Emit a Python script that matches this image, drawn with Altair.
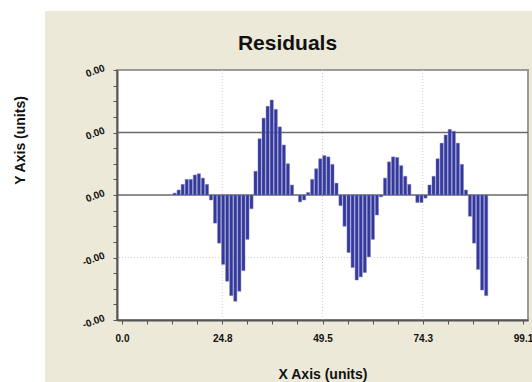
import altair as alt
import pandas as pd

# ---- data ----
x_vals = list(range(13, 91))
# residual values in units of 0.001
residuals_milli = [
    0.03, 0.08, 0.17, 0.25, 0.25, 0.32, 0.34, 0.27, 0.17, -0.08,
    -0.45, -0.77, -1.11, -1.38, -1.61, -1.70, -1.54, -1.21, -0.71, -0.22,
    0.38, 0.90, 1.23, 1.42, 1.52, 1.37, 1.09, 0.80, 0.50, 0.16,
    0.0, -0.11, -0.08, 0.04, 0.25, 0.42, 0.58, 0.63, 0.61, 0.49,
    0.19, -0.17, -0.50, -0.92, -1.16, -1.36, -1.31, -1.24, -0.99, -0.71,
    -0.32, -0.03, 0.27, 0.53, 0.61, 0.60, 0.47, 0.30, 0.17, 0.0,
    -0.12, -0.12, -0.05, 0.16, 0.30, 0.58, 0.83, 0.96, 1.05, 1.02,
    0.83, 0.49, 0.08, -0.34, -0.77, -1.19, -1.52, -1.61,
]
x_major = [0.0, 24.775, 49.55, 74.325, 99.1]
y_major = [-0.002, -0.001, 0.0, 0.001, 0.002]
solid_lines_y = [0.0, 0.001]
grid_x = [24.775, 49.55, 74.325]
grid_y = [-0.001]

x_ticks = [x_major[0] + i * (x_major[1] - x_major[0]) / 4 for i in range(17)]
y_ticks = [-0.002 + i * 0.00025 for i in range(17)]

df = pd.DataFrame({"x": x_vals, "y": [v * 0.001 for v in residuals_milli]})

W, H = 411, 250
PL, PT, PR, PB = 117, 70, 4, 62
BEIGE = "#ECE9D8"
FONT = "Liberation Sans"

xscale = alt.Scale(domain=[0, 99.1], nice=False, zero=False)
yscale = alt.Scale(domain=[-0.002, 0.002], nice=False, zero=False)

x_label_expr = ("abs(datum.value/24.775 - round(datum.value/24.775)) < 0.01 ? "
                "format(datum.value, '.1f') : ''")
y_label_expr = ("abs(datum.value*1000 - round(datum.value*1000)) < 0.01 ? "
                "(datum.value < -0.0000001 ? '-' : '') + format(abs(datum.value), '.2f') : ''")

xaxis = alt.Axis(
    values=x_ticks, labelExpr=x_label_expr, title="X Axis (units)",
    grid=False, zindex=1, domainColor="#555555", domainWidth=2,
    tickColor="#555555", tickSize=4, tickWidth=1,
    labelFont=FONT, labelFontSize=10, labelFontWeight="bold", labelColor="#111111",
    labelPadding=9, labelFlush=False, labelOverlap=False,
    titleFont=FONT, titleFontSize=14, titleFontWeight="bold", titleColor="#111111",
    titleBaseline="alphabetic", titleY=58,
)
yaxis = alt.Axis(
    values=y_ticks, labelExpr=y_label_expr, title="Y Axis (units)",
    grid=False, zindex=1, domainColor="#555555", domainWidth=2,
    tickColor="#555555", tickSize=4, tickWidth=1,
    labelFont=FONT, labelFontSize=10, labelFontWeight="bold", labelColor="#111111",
    labelPadding=8, labelAngle=340, labelAlign="right", labelBaseline="alphabetic",
    labelFlush=False, labelOverlap=False,
    titleFont=FONT, titleFontSize=14, titleFontWeight="bold", titleColor="#111111",
    titleAngle=270, titleAlign="center", titleBaseline="middle",
    titleX=20 - PL, titleY=140 - PT,
)

one = alt.Data(values=[{"a": 1}])

bg = alt.Chart(one).mark_rect(color=BEIGE).encode(
    x=alt.value(45 - PL), x2=alt.value(W + PR + 5),
    y=alt.value(11 - PT), y2=alt.value(H + PB + 5),
)
plotbg = alt.Chart(one).mark_rect(fill="white", stroke="#9a9a9a", strokeWidth=2).encode(
    x=alt.value(0), x2=alt.value(W), y=alt.value(0), y2=alt.value(H),
)

vgrid = alt.Chart(pd.DataFrame({"x": grid_x})).mark_rule(
    color="#d0d0d0", strokeDash=[1, 2], strokeWidth=1
).encode(x=alt.X("x:Q", scale=xscale, axis=xaxis))
hgrid = alt.Chart(pd.DataFrame({"y": grid_y})).mark_rule(
    color="#d0d0d0", strokeDash=[1, 2], strokeWidth=1
).encode(y=alt.Y("y:Q", scale=yscale, axis=yaxis))
hlines = alt.Chart(pd.DataFrame({"y": solid_lines_y})).mark_rule(
    color="#6a6a6a", strokeWidth=1.3
).encode(y=alt.Y("y:Q", scale=yscale, axis=yaxis))

bars = alt.Chart(df).mark_bar(
    size=3.2, color="#34389A", stroke="#7a7ec4", strokeWidth=0.5
).encode(
    x=alt.X("x:Q", scale=xscale, axis=xaxis),
    y=alt.Y("y:Q", scale=yscale, axis=yaxis),
)

chart = alt.layer(bg, plotbg, vgrid, hgrid, hlines, bars).properties(
    width=W, height=H,
    padding={"left": PL, "top": PT, "right": PR, "bottom": PB},
    autosize=alt.AutoSizeParams(type="none"),
    background="white",
    title=alt.TitleParams(
        "Residuals", font=FONT, fontSize=21, fontWeight="bold", color="#111111",
        anchor="middle", dx=-35, offset=0, baseline="alphabetic", dy=60,
    ),
).configure_view(strokeWidth=0)

chart.save("out.html", embed_options={"renderer": "svg", "actions": False})
